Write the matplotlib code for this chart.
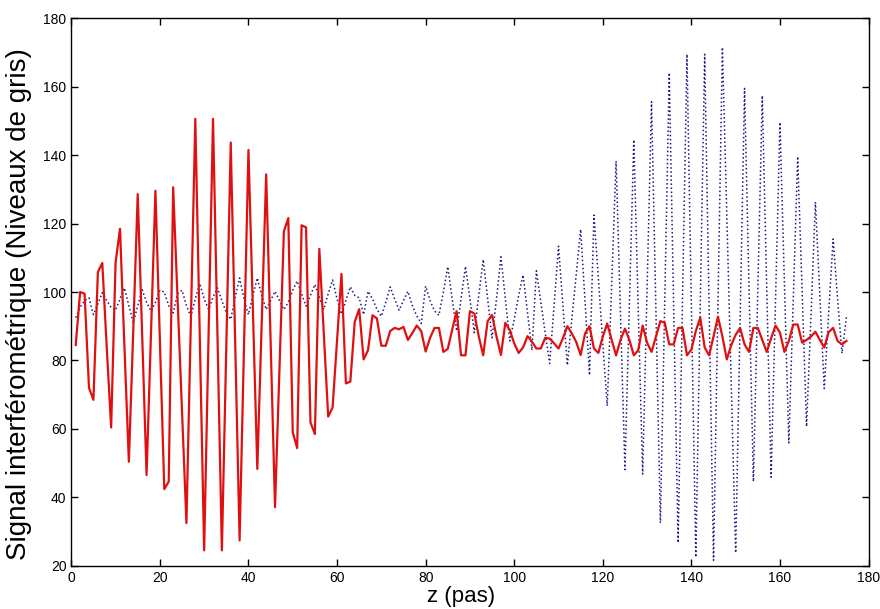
import matplotlib
matplotlib.use("Agg")
import matplotlib.pyplot as plt
import numpy as np

z = list(range(1, 176))

red_signal = [
    84.5, 100, 99.5, 72, 68.5, 105.8, 108.5, 84, 60.4, 108.6,
    118.5, 84, 50.4, 89, 128.6, 88, 46.5, 88, 129.6, 86,
    42.4, 44.6, 130.6, 98, 65, 32.5, 92, 150.6, 87, 24.5,
    87, 150.6, 87, 24.5, 84, 143.7, 85, 27.4, 84, 141.5,
    95, 48.3, 91, 134.4, 86, 37.1, 77, 117.7, 121.6, 59,
    54.4, 119.5, 118.9, 61.9, 58.5, 112.6, 88, 63.6, 66.3, 86,
    105.3, 73.3, 73.8, 91.3, 95, 80.3, 83, 93.2, 92.3, 84.3,
    84.3, 88.6, 89.5, 89.1, 89.8, 86, 88, 90.2, 88.6, 82.6,
    86.6, 89.5, 89.5, 82.5, 83.4, 89, 94.4, 81.5, 81.5, 94.4,
    93.7, 87, 81.5, 91.5, 93.3, 87, 81.6, 91, 88.9, 85,
    82.2, 83.8, 87.1, 85.5, 83.5, 83.5, 86.6, 86.4, 85, 83.5,
    86.5, 90, 87.9, 85.4, 81.6, 87.9, 90, 83.5, 82.2, 87,
    90.8, 86, 81.5, 86, 89.3, 86, 81.5, 83, 90.2, 85.2,
    82.5, 87, 91.5, 91, 84.7, 84.7, 89.5, 89.5, 81.5, 83.2,
    88.6, 92.5, 83.8, 81.5, 87, 92.8, 87, 80.3, 84.5, 87.5,
    89.5, 84.7, 82.5, 89.5, 89.5, 86, 82.5, 86.5, 90.2, 88.1,
    82.5, 85.7, 90.5, 90.5, 85.2, 86, 87, 88.4, 86, 83.8,
    88.3, 89.5, 85.7, 84.7, 85.7,
]

blue_signal = [
    92.5, 95.5, 97.5, 98.3, 93.4, 96.5, 99.8, 97.5, 95.5, 94.7,
    98, 101.2, 96, 91, 96, 100.7, 97, 94.4, 97, 100.5,
    100, 96, 93.9, 99.5, 100.5, 96, 92.9, 98, 102.5, 98,
    94.9, 98.5, 101.2, 97.5, 94, 92, 98.5, 104.1, 98, 93.4,
    99, 104.1, 99, 94.9, 97.5, 100.2, 97.5, 94.9, 97, 100.5,
    103.2, 99.5, 95.9, 99, 102.2, 98.5, 94.9, 99.5, 103.5, 98,
    93.5, 97.5, 101.5, 99, 98.3, 93.4, 100.2, 98, 95, 92.9,
    97, 101.5, 98, 94.7, 97.5, 100.2, 96, 93, 90.8, 101.7,
    97.5, 94.5, 93.2, 100, 107.4, 98, 88.6, 98, 107.5, 98,
    88.1, 99, 109.5, 98, 86.6, 98, 110.3, 98, 85.7, 92,
    99, 105, 94, 83, 106.2, 97, 88, 79.1, 96, 113.4,
    96, 78.6, 92, 105, 118.3, 97, 75.7, 122.5, 104, 85,
    66.7, 102, 138.3, 93, 48.1, 96, 144.5, 95, 46.8, 101,
    155.6, 94, 32.5, 98, 164.1, 95, 26.7, 98, 169.5, 96,
    22.5, 96, 169.5, 95, 21.6, 96, 171.5, 122, 73, 23.8,
    92, 159.5, 102, 44.6, 101, 157.4, 101, 45.9, 98, 149.6,
    103, 55.9, 98, 139.6, 100, 60.7, 93, 126.3, 99, 71.8,
    94, 115.5, 98, 82.1, 92.7,
]

x_ticks = [0, 20, 40, 60, 80, 100, 120, 140, 160, 180]
y_ticks = [20, 40, 60, 80, 100, 120, 140, 160, 180]

plt.rcParams['font.family'] = ['Liberation Sans', 'DejaVu Sans']

fig = plt.figure(figsize=(8.8, 6.09), dpi=100)
ax = fig.add_axes([0.081, 0.071, 0.906, 0.899])

ax.plot(z, blue_signal, linestyle=':', color='#1a1a80', linewidth=1.1)
ax.plot(z, red_signal, linestyle='-', color='#e01010', linewidth=1.6)

ax.set_xlim(0, 180)
ax.set_ylim(20, 180)
ax.set_xticks(x_ticks)
ax.set_yticks(y_ticks)
ax.tick_params(direction='in', top=True, right=True, labelsize=10, length=5, width=1)
for s in ax.spines.values():
    s.set_linewidth(1.0)

ax.set_xlabel('z (pas)', fontsize=16, va='center')
ax.xaxis.set_label_coords(0.489, -0.057)
ax.set_ylabel('Signal interférométrique (Niveaux de gris)', fontsize=20, va='center')
ax.yaxis.set_label_coords(-0.066, 0.478)

fig.savefig('out.png', dpi=100)
